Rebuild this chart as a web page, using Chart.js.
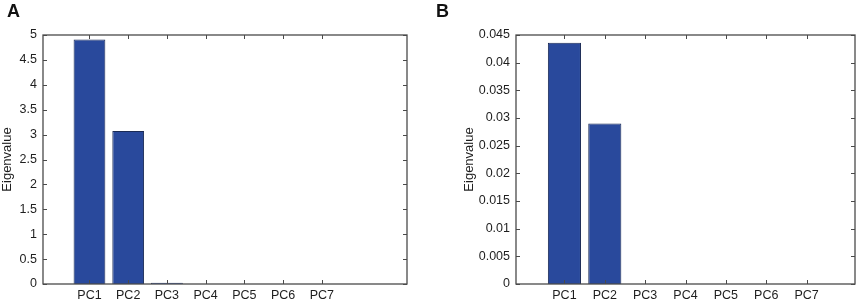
<!DOCTYPE html>
<html>
<head>
<meta charset="utf-8">
<script src="https://cdn.jsdelivr.net/npm/chart.js@4.4.0/dist/chart.umd.min.js"></script>
<style>
  body { margin: 0; background: #fff; }
  .wrap { position: absolute; top: 0; width: 429px; height: 302px; }
  .tag { position: absolute; top: 1px; left: 7px; font: bold 18px "Liberation Sans", Arial, sans-serif; color: #111; }
</style>
</head>
<body>
<div class="wrap" style="left:0"><canvas id="chartA" width="429" height="302"></canvas><div class="tag">A</div></div>
<div class="wrap" style="left:429px"><canvas id="chartB" width="429" height="302"></canvas><div class="tag">B</div></div>
<script>
var components = ['PC1', 'PC2', 'PC3', 'PC4', 'PC5', 'PC6', 'PC7'];
var eigenA = [4.91, 3.07, 0.026, 0, 0, 0, 0];
var eigenB = [0.0436, 0.0290, 0, 0, 0, 0, 0];

var barColor = 'rgb(41, 73, 156)';
var font = { family: '"Liberation Sans", Arial, sans-serif', size: 12.5 };

// box around the plot and inward tick marks, like the original figure
var boxPlugin = {
    id: 'box',
    afterDraw: function (chart) {
        var ctx = chart.ctx, a = chart.chartArea;
        var x = chart.scales.x, y = chart.scales.y;
        ctx.save();
        ctx.strokeStyle = '#4a4a4a';
        ctx.lineWidth = 1.3;
        ctx.strokeRect(a.left, a.top, a.right - a.left, a.bottom - a.top);
        ctx.lineWidth = 1;
        ctx.beginPath();
        y.ticks.forEach(function (t) {
            var py = Math.round(y.getPixelForValue(t.value)) + 0.5;
            ctx.moveTo(a.left, py); ctx.lineTo(a.left + 4, py);
            ctx.moveTo(a.right, py); ctx.lineTo(a.right - 4, py);
        });
        x.ticks.forEach(function (t) {
            if (t.value < 1 || t.value > components.length) return;
            var px = Math.round(x.getPixelForValue(t.value)) + 0.5;
            ctx.moveTo(px, a.bottom); ctx.lineTo(px, a.bottom - 4);
            ctx.moveTo(px, a.top); ctx.lineTo(px, a.top + 4);
        });
        ctx.stroke();
        ctx.restore();
    }
};

function makeChart(id, values, yMax, step, xMax, padLeft, padRight, axisWidth) {
    var pts = values.map(function (v, i) { return { x: i + 1, y: v }; });
    return new Chart(document.getElementById(id).getContext('2d'), {
        type: 'bar',
        data: {
            datasets: [{
                data: pts,
                backgroundColor: barColor,
                borderColor: '#1a2a55',
                borderWidth: 1,
                barPercentage: 0.82,
                categoryPercentage: 1
            }]
        },
        options: {
            responsive: false,
            animation: false,
            layout: { padding: { left: padLeft, top: 35, right: padRight, bottom: 0 } },
            plugins: { legend: { display: false }, tooltip: { enabled: false } },
            scales: {
                x: {
                    type: 'linear',
                    min: -0.2,
                    max: xMax,
                    offset: false,
                    grid: { display: false, drawTicks: false },
                    border: { display: false },
                    afterBuildTicks: function (s) {
                        s.ticks = components.map(function (c, i) { return { value: i + 1 }; });
                    },
                    ticks: {
                        autoSkip: false,
                        maxRotation: 0,
                        padding: 4,
                        color: '#1e1e1e',
                        font: font,
                        callback: function (v) { return components[v - 1] || ''; }
                    },
                    afterFit: function (s) { s.height = 18; }
                },
                y: {
                    min: 0,
                    max: yMax,
                    grid: { display: false, drawTicks: false },
                    border: { display: false },
                    ticks: {
                        stepSize: step,
                        padding: 6,
                        color: '#1e1e1e',
                        font: font,
                        callback: function (v) { return String(Number(v.toFixed(4))); }
                    },
                    title: { display: true, text: 'Eigenvalue', color: '#1e1e1e', font: { family: font.family, size: 13 }, padding: 0 },
                    afterFit: function (s) { s.width = axisWidth; }
                }
            }
        },
        plugins: [boxPlugin]
    });
}

makeChart('chartA', eigenA, 5, 0.5, 9.2, 0, 22, 43);
makeChart('chartB', eigenB, 0.045, 0.005, 8.2, 33, 3, 54);
</script>
</body>
</html>
